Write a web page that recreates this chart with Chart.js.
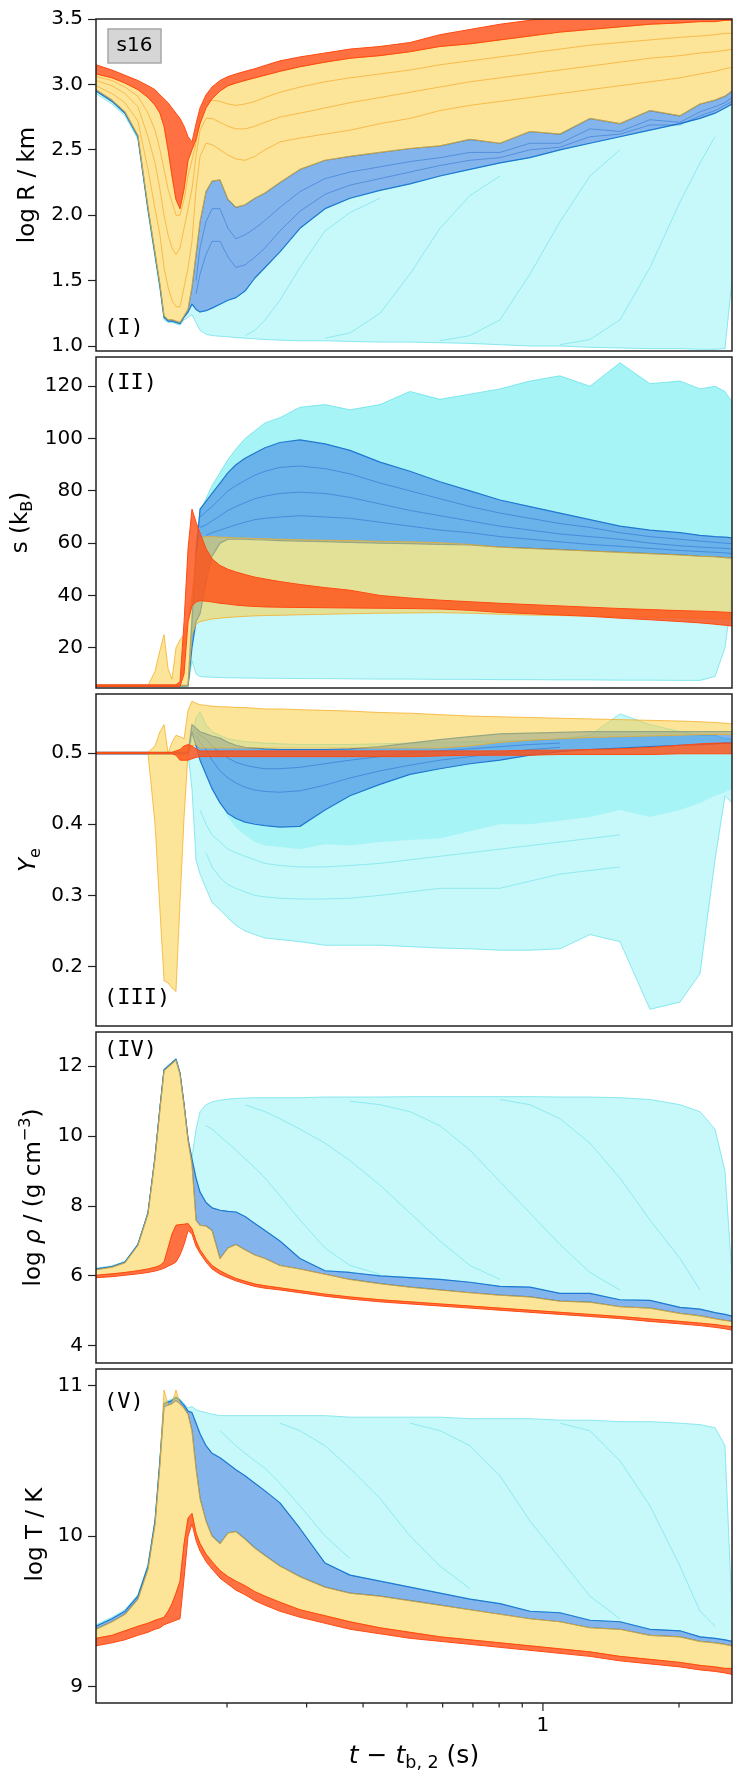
<!DOCTYPE html>
<html>
<head>
<meta charset="utf-8">
<title>s16 trajectories</title>
<script src="https://cdn.jsdelivr.net/npm/chart.js@4.4.1/dist/chart.umd.min.js"></script>
<style>
  html, body { margin: 0; padding: 0; background: #fff; }
  #fig { position: relative; width: 748px; height: 1782px; overflow: hidden; }
  #fig canvas { position: absolute; left: 0; }
</style>
</head>
<body>
<div id="fig"></div>
<script>
// Tiempo después del segundo rebote (s), eje logarítmico compartido
const timeSec = [0.1026, 0.1113, 0.1189, 0.1270, 0.1337, 0.1386, 0.1421, 0.1451, 0.1481, 0.1511, 0.1542,
    0.1574, 0.1607, 0.1640, 0.1673, 0.1708, 0.1743, 0.1797, 0.1853, 0.1930, 0.2010, 0.2093,
    0.2192, 0.2305, 0.2427, 0.2619, 0.2900, 0.3295, 0.3742, 0.4360, 0.5080, 0.5918, 0.6896,
    0.8034, 0.9361, 1.0907, 1.2707, 1.4806, 1.7250, 2.010, 2.226, 2.403, 2.528, 2.620];
const timeTicks = [0.2, 0.3, 0.4, 0.5, 0.6, 0.7, 0.8, 0.9, 1, 2];

// (I) log R / km
const radTicks = [1.0, 1.5, 2.0, 2.5, 3.0, 3.5];
const radCyanLo = [2.93, 2.85, 2.76, 2.58, 2.02, 1.67, 1.43, 1.20, 1.18, 1.18, 1.17,
    1.16, 1.20, 1.22, 1.24, 1.18, 1.12, 1.09, 1.08, 1.075, 1.07, 1.065,
    1.06, 1.055, 1.05, 1.045, 1.04, 1.04, 1.035, 1.03, 1.03, 1.025, 1.02,
    1.01, 1.0, 1.0, 0.99, 0.985, 0.98, 0.98, 0.975, 0.975, 0.98, 1.5];
const radCyanHi = [2.95, 2.87, 2.78, 2.60, 2.05, 1.70, 1.46, 1.22, 1.19, 1.19, 1.18,
    1.17, 1.22, 1.26, 1.32, 1.28, 1.26, 1.27, 1.29, 1.32, 1.35, 1.37,
    1.42, 1.52, 1.60, 1.72, 1.90, 2.05, 2.13, 2.19, 2.24, 2.30, 2.35,
    2.40, 2.44, 2.50, 2.55, 2.60, 2.65, 2.70, 2.74, 2.78, 2.82, 2.85];
const radBlueHi = [2.96, 2.88, 2.79, 2.61, 2.06, 1.71, 1.47, 1.23, 1.20, 1.20, 1.19,
    1.18, 1.23, 1.28, 1.45, 1.70, 1.95, 2.18, 2.26, 2.27, 2.12, 2.06,
    2.08, 2.13, 2.17, 2.25, 2.35, 2.42, 2.45, 2.48, 2.51, 2.53, 2.58,
    2.55, 2.64, 2.62, 2.74, 2.70, 2.80, 2.76, 2.85, 2.88, 2.91, 2.95];
const radRedLo = [3.08, 3.05, 3.01, 2.96, 2.90, 2.84, 2.78, 2.68, 2.50, 2.30, 2.12,
    2.05, 2.20, 2.42, 2.50, 2.58, 2.70, 2.82, 2.89, 2.95, 2.99, 3.01,
    3.03, 3.05, 3.07, 3.10, 3.135, 3.17, 3.20, 3.22, 3.25, 3.29, 3.31,
    3.34, 3.37, 3.40, 3.42, 3.44, 3.46, 3.47, 3.48, 3.48, 3.49, 3.49];
const radRedHi = [3.15, 3.11, 3.07, 3.03, 2.99, 2.96, 2.92, 2.89, 2.86, 2.82, 2.78,
    2.74, 2.68, 2.60, 2.56, 2.70, 2.82, 2.92, 2.98, 3.03, 3.06, 3.08,
    3.10, 3.12, 3.145, 3.18, 3.21, 3.24, 3.27, 3.29, 3.32, 3.38, 3.42,
    3.46, 3.49, 3.52, 3.55, 3.57, 3.59, 3.61, 3.62, 3.63, 3.64, 3.65];
// trayectorias individuales: [índice inicial, valores]
const radYellowTraces = [
    [0, [2.99, 2.93, 2.86, 2.72, 2.35, 2.05, 1.85, 1.60, 1.45, 1.35, 1.30, 1.30, 1.45, 1.60, 1.80, 2.20, 2.45,
         2.55, 2.54, 2.50, 2.46, 2.43, 2.42, 2.45, 2.50, 2.56, 2.59, 2.62, 2.65, 2.70, 2.74, 2.80, 2.84,
         2.87, 2.90, 2.93, 2.96, 2.99, 3.02, 3.05, 3.08, 3.10, 3.12, 3.13]],
    [0, [3.03, 2.99, 2.93, 2.83, 2.60, 2.40, 2.20, 2.00, 1.85, 1.75, 1.70, 1.75, 1.90, 2.05, 2.20, 2.45, 2.65,
         2.74, 2.74, 2.71, 2.68, 2.66, 2.66, 2.68, 2.71, 2.75, 2.78, 2.82, 2.86, 2.90, 2.94, 2.98, 3.02,
         3.05, 3.08, 3.11, 3.14, 3.17, 3.20, 3.22, 3.24, 3.25, 3.26, 3.27]],
    [0, [3.06, 3.03, 2.98, 2.91, 2.78, 2.65, 2.50, 2.35, 2.20, 2.10, 2.00, 2.00, 2.12, 2.30, 2.42, 2.55, 2.78,
         2.87, 2.88, 2.87, 2.85, 2.84, 2.85, 2.87, 2.90, 2.94, 2.98, 3.02, 3.05, 3.08, 3.11, 3.15, 3.18,
         3.21, 3.24, 3.27, 3.30, 3.32, 3.34, 3.36, 3.37, 3.38, 3.39, 3.39]]
];
const radBlueTraces = [
    [15, [1.5, 1.75, 1.95, 2.05, 2.05, 1.9, 1.82, 1.85, 1.9, 1.96, 2.06, 2.18, 2.28, 2.33, 2.37, 2.41, 2.44,
          2.48, 2.48, 2.55, 2.55, 2.66, 2.64, 2.73, 2.71, 2.79, 2.83, 2.86, 2.9]],
    [15, [1.4, 1.55, 1.7, 1.8, 1.8, 1.68, 1.6, 1.62, 1.68, 1.75, 1.88, 2.03, 2.16, 2.23, 2.28, 2.33, 2.38,
          2.42, 2.44, 2.5, 2.52, 2.6, 2.62, 2.69, 2.69, 2.76, 2.8, 2.84, 2.87]]
];
const radCyanTraces = [
    [22, [1.08, 1.12, 1.20, 1.35, 1.60, 1.88, 2.02, 2.13]],
    [27, [1.06, 1.10, 1.25, 1.55, 1.90, 2.15, 2.30]],
    [31, [1.04, 1.08, 1.20, 1.55, 1.95, 2.30, 2.50]],
    [35, [1.01, 1.05, 1.20, 1.60, 2.10, 2.40, 2.60]]
];

// (II) entropía s (kB)
const entTicks = [20, 40, 60, 80, 100, 120];
const entCyanLo = [5.2, 5.2, 5.2, 5.2, 5.2, 5.2, 5.2, 5.2, 5.2, 5.2, 5.2,
    5.2, 5.2, 5.3, 15, 10, 9.0, 8.8, 8.7, 8.6, 8.5, 8.5,
    8.4, 8.4, 8.3, 8.3, 8.2, 8.2, 8.1, 8.0, 8.0, 7.9, 7.9,
    7.8, 7.8, 7.7, 7.7, 7.6, 7.6, 7.5, 7.5, 9.0, 20, 40];
const entCyanHi = [5.5, 5.5, 5.5, 5.5, 5.5, 5.5, 5.5, 5.5, 5.5, 5.5, 5.5,
    5.5, 5.5, 5.6, 35, 60, 72, 77, 82, 87, 92, 96,
    100, 103, 106, 108, 112, 113, 111, 113, 118, 115, 117,
    119, 122, 124, 120, 129, 121, 122, 119, 120, 118, 114];
const entBlueLo = [5.4, 5.4, 5.4, 5.4, 5.4, 5.4, 5.4, 5.4, 5.4, 5.4, 5.4,
    5.4, 5.4, 5.4, 20, 30, 33, 45, 55, 60, 61.5, 61.5,
    61.5, 61.3, 61.2, 61, 60.8, 60.6, 60.3, 60, 59.8, 59.5, 59.3,
    58.5, 58, 57.5, 57, 56.5, 56, 55.5, 55, 54.8, 54.5, 54.3];
const entBlueHi = [5.6, 5.6, 5.6, 5.6, 5.6, 5.6, 5.6, 5.6, 5.6, 5.6, 5.6,
    5.6, 5.6, 5.6, 30, 55, 73, 76, 79, 83, 87, 90,
    92.5, 94.5, 96.5, 98.5, 99.5, 98, 95.5, 91, 87.5, 83.5, 80,
    76.5, 74, 71.5, 69, 66.5, 65, 64, 63, 62.5, 62.3, 62];
const entYelLo = [5.4, 5.4, 5.4, 5.4, 5.4, 5.4, 5.4, 5.4, 5.4, 5.4, 5.4,
    5.4, 5.4, 5.4, 25, 29, 30, 30.5, 31, 31.3, 31.6, 31.8,
    32, 32.2, 32.3, 32.4, 32.6, 32.8, 33, 33.2, 33.3, 33.4, 33.2,
    32.8, 32.5, 32.3, 32.1, 31.9, 31.7, 31.5, 31.3, 31.2, 31.1, 31];
const entYelHi = [5.6, 5.6, 5.6, 5.6, 5.6, 11, 19, 25, 12, 8, 20,
    23, 25, 30, 40, 55, 62, 62.5, 62.5, 62.3, 62.2, 62,
    62, 61.8, 61.7, 61.5, 61.3, 61.1, 61, 60.7, 60.5, 60.2, 59.5,
    58.5, 58, 57.5, 57, 56.5, 56, 55.5, 55, 54.8, 54.5, 54.3];
const entRedLo = [5.2, 5.2, 5.2, 5.2, 5.2, 5.2, 5.2, 5.2, 5.2, 5.2, 5.2,
    5.2, 10, 30, 36, 37.5, 38, 37.8, 37.5, 37, 36.7, 36.3,
    36, 35.8, 35.6, 35.5, 35.4, 35.3, 35.2, 35.1, 35, 34.8, 34.3,
    33.5, 33, 32.5, 32, 31.3, 30.7, 30, 29.5, 29, 28.6, 28.3];
const entRedHi = [5.8, 5.8, 5.8, 5.8, 5.8, 5.8, 5.8, 5.8, 5.8, 5.8, 5.8,
    7, 30, 58, 73, 68, 64, 58, 54, 51.5, 50, 49,
    48, 47, 46.3, 45.3, 44.2, 43, 42, 40, 39, 38.2, 37.6,
    37, 36.5, 36, 35.5, 35, 34.6, 34.2, 34, 33.8, 33.6, 33.5];
const entBlueTraces = [
    [16, [70, 72, 74, 77, 80, 82, 84, 86, 87.5, 89, 89.5, 88.5, 86.5, 83, 80, 77, 74, 71.5, 69.5, 67.5,
          66, 64, 62.5, 61.5, 60.8, 60.3, 60, 59.8]],
    [16, [66, 67, 68.5, 70.5, 72.5, 74, 75.5, 77, 78, 79, 79.5, 79, 77.5, 75, 72.5, 70.5, 68.5, 66.5, 65,
          63.5, 62.5, 61.5, 60, 59, 58.5, 58.2, 58, 57.8]],
    [17, [63, 64, 65, 66, 67, 68, 69, 69.5, 70, 70.5, 70, 69.5, 68, 66.5, 65, 64, 62.5, 61.5, 60.5, 59.5,
          58.8, 58, 57.2, 56.8, 56.5, 56.3, 56]]
];

// (III) fracción de electrones Ye
const yeTicks = [0.2, 0.3, 0.4, 0.5];
const yeCyanLo = [0.499, 0.499, 0.499, 0.499, 0.499, 0.499, 0.499, 0.499, 0.499, 0.499, 0.499,
    0.499, 0.499, 0.499, 0.45, 0.35, 0.33, 0.31, 0.29, 0.28, 0.268, 0.258,
    0.25, 0.245, 0.24, 0.238, 0.235, 0.23, 0.23, 0.23, 0.228, 0.226, 0.225,
    0.223, 0.223, 0.225, 0.245, 0.235, 0.14, 0.15, 0.19, 0.35, 0.44, 0.43];
const yeCyanHi = [0.501, 0.501, 0.501, 0.501, 0.501, 0.501, 0.501, 0.501, 0.501, 0.501, 0.501,
    0.501, 0.501, 0.501, 0.52, 0.55, 0.558, 0.54, 0.53, 0.525, 0.52, 0.518,
    0.516, 0.515, 0.514, 0.513, 0.512, 0.512, 0.512, 0.513, 0.514, 0.515, 0.516,
    0.517, 0.518, 0.52, 0.525, 0.555, 0.54, 0.53, 0.525, 0.525, 0.52, 0.52];
const yeCyanDenseLo = [0.499, 0.499, 0.499, 0.499, 0.499, 0.499, 0.499, 0.499, 0.499, 0.499, 0.499,
    0.499, 0.499, 0.499, 0.53, 0.51, 0.49, 0.47, 0.45, 0.43, 0.41, 0.395,
    0.385, 0.375, 0.37, 0.368, 0.365, 0.372, 0.37, 0.375, 0.378, 0.38, 0.39,
    0.40, 0.40, 0.405, 0.41, 0.42, 0.41, 0.42, 0.43, 0.44, 0.445, 0.45];
const yeBlueLo = [0.499, 0.499, 0.499, 0.499, 0.499, 0.499, 0.499, 0.499, 0.499, 0.499, 0.499,
    0.499, 0.499, 0.499, 0.53, 0.51, 0.49, 0.47, 0.45, 0.43, 0.415, 0.408,
    0.403, 0.40, 0.398, 0.396, 0.397, 0.42, 0.44, 0.456, 0.47, 0.478, 0.485,
    0.49, 0.497, 0.502, 0.505, 0.507, 0.509, 0.511, 0.512, 0.513, 0.514, 0.514];
const yeBlueHi = [0.501, 0.501, 0.501, 0.501, 0.501, 0.501, 0.501, 0.501, 0.501, 0.501, 0.501,
    0.501, 0.501, 0.501, 0.54, 0.535, 0.53, 0.527, 0.524, 0.521, 0.515, 0.511,
    0.508, 0.507, 0.506, 0.505, 0.505, 0.505, 0.506, 0.509, 0.514, 0.519, 0.523,
    0.527, 0.528, 0.529, 0.53, 0.53, 0.53, 0.53, 0.53, 0.53, 0.53, 0.53];
const yeYelLo = [0.5, 0.5, 0.5, 0.5, 0.5, 0.40, 0.28, 0.18, 0.177, 0.17, 0.165,
    0.29, 0.41, 0.5, 0.51, 0.512, 0.507, 0.507, 0.507, 0.507, 0.507, 0.507,
    0.507, 0.507, 0.507, 0.507, 0.507, 0.507, 0.507, 0.507, 0.507, 0.507, 0.51,
    0.515, 0.518, 0.52, 0.522, 0.523, 0.524, 0.525, 0.526, 0.526, 0.526, 0.526];
const yeYelHi = [0.501, 0.501, 0.501, 0.501, 0.501, 0.51, 0.53, 0.54, 0.50, 0.515, 0.525,
    0.523, 0.52, 0.56, 0.573, 0.570, 0.568, 0.567, 0.566, 0.565, 0.565, 0.564,
    0.564, 0.563, 0.562, 0.562, 0.561, 0.560, 0.559, 0.557, 0.556, 0.554, 0.552,
    0.551, 0.55, 0.549, 0.548, 0.547, 0.546, 0.545, 0.544, 0.543, 0.542, 0.541];
const yeRedLo = [0.499, 0.499, 0.499, 0.499, 0.499, 0.499, 0.499, 0.499, 0.499, 0.499, 0.497,
    0.49, 0.49, 0.49, 0.492, 0.494, 0.495, 0.495, 0.495, 0.495, 0.495, 0.495,
    0.495, 0.495, 0.495, 0.495, 0.495, 0.495, 0.495, 0.495, 0.495, 0.496, 0.497,
    0.497, 0.497, 0.498, 0.498, 0.498, 0.498, 0.499, 0.499, 0.499, 0.499, 0.499];
const yeRedHi = [0.501, 0.501, 0.501, 0.501, 0.501, 0.501, 0.501, 0.501, 0.501, 0.501, 0.503,
    0.505, 0.51, 0.512, 0.51, 0.506, 0.503, 0.503, 0.503, 0.503, 0.503, 0.503,
    0.503, 0.503, 0.503, 0.503, 0.503, 0.503, 0.503, 0.503, 0.503, 0.503, 0.503,
    0.503, 0.504, 0.504, 0.505, 0.506, 0.508, 0.511, 0.513, 0.514, 0.514, 0.514];
const yeBlueTraces = [
    [15, [0.525, 0.515, 0.505, 0.49, 0.475, 0.465, 0.458, 0.452, 0.448, 0.446, 0.445, 0.447, 0.455, 0.465,
          0.475, 0.483, 0.49, 0.495, 0.5, 0.505, 0.508]],
    [15, [0.53, 0.525, 0.52, 0.51, 0.5, 0.493, 0.487, 0.483, 0.48, 0.478, 0.478, 0.48, 0.485, 0.49,
          0.495, 0.5, 0.503, 0.506, 0.509, 0.512, 0.514]]
];
const yeCyanTraces = [
    [17, [0.36, 0.34, 0.325, 0.315, 0.31, 0.305, 0.3, 0.298, 0.296, 0.295, 0.295, 0.296, 0.3, 0.305,
          0.31, 0.31, 0.31, 0.32, 0.33, 0.335, 0.34]],
    [16, [0.42, 0.40, 0.385, 0.375, 0.365, 0.36, 0.355, 0.35, 0.345, 0.342, 0.34, 0.34, 0.342, 0.345,
          0.35, 0.355, 0.36, 0.365, 0.37, 0.375, 0.38, 0.385]]
];

// (IV) log densidad
const rhoTicks = [4, 6, 8, 10, 12];
const rhoCyanLo = [6.2, 6.27, 6.4, 6.9, 7.8, 9.4, 10.8, 11.9, 12.0, 12.1, 12.2,
    11.8, 10.9, 9.9, 9.35, 8.8, 8.4, 8.1, 7.95, 7.88, 7.85, 7.83,
    7.7, 7.5, 7.3, 7.0, 6.5, 6.15, 6.1, 6.0, 5.95, 5.9, 5.82,
    5.7, 5.68, 5.5, 5.5, 5.32, 5.3, 5.1, 5.05, 4.95, 4.9, 4.85];
const rhoCyanHi = [6.22, 6.29, 6.42, 6.92, 7.82, 9.42, 10.82, 11.92, 12.02, 12.12, 12.22,
    11.82, 10.92, 9.92, 9.4, 10.2, 10.7, 10.9, 10.98, 11.03, 11.06, 11.08,
    11.09, 11.1, 11.1, 11.1, 11.1, 11.12, 11.12, 11.12, 11.13, 11.13, 11.13,
    11.13, 11.13, 11.12, 11.12, 11.1, 11.05, 10.9, 10.7, 10.2, 9.0, 6.0];
const rhoBlueLo = [6.18, 6.25, 6.38, 6.88, 7.78, 9.38, 10.78, 11.88, 11.98, 12.08, 12.18,
    11.78, 10.88, 9.88, 9.2, 7.6, 7.45, 7.43, 7.3, 6.5, 6.8, 6.9,
    6.75, 6.6, 6.5, 6.3, 6.2, 6.05, 5.9, 5.78, 5.68, 5.6, 5.52,
    5.45, 5.4, 5.28, 5.25, 5.12, 5.08, 4.93, 4.86, 4.78, 4.73, 4.7];
const rhoRedHi = [6.02, 6.06, 6.1, 6.15, 6.2, 6.25, 6.3, 6.4, 6.8, 7.2, 7.45,
    7.47, 7.48, 7.5, 7.35, 7.0, 6.75, 6.5, 6.3, 6.15, 6.03, 5.93,
    5.85, 5.77, 5.72, 5.66, 5.58, 5.48, 5.4, 5.32, 5.26, 5.2, 5.14,
    5.08, 5.02, 4.96, 4.9, 4.84, 4.77, 4.7, 4.65, 4.61, 4.57, 4.55];
const rhoRedLo = [5.95, 5.98, 6.02, 6.06, 6.1, 6.14, 6.18, 6.22, 6.28, 6.33, 6.4,
    6.6, 6.9, 7.3, 7.2, 6.85, 6.65, 6.4, 6.2, 6.05, 5.95, 5.86,
    5.78, 5.7, 5.65, 5.6, 5.52, 5.42, 5.34, 5.26, 5.2, 5.14, 5.08,
    5.02, 4.96, 4.9, 4.84, 4.78, 4.7, 4.63, 4.58, 4.53, 4.49, 4.45];
const rhoCyanTraces = [
    [17, [10.3, 10.2, 10.0, 9.8, 9.6, 9.35, 9.1, 8.8, 8.3, 7.6, 6.8, 6.3, 6.05]],
    [22, [10.9, 10.8, 10.7, 10.5, 10.2, 9.8, 9.3, 8.6, 7.8, 7.0, 6.3, 5.9]],
    [28, [11.0, 10.9, 10.7, 10.3, 9.6, 8.7, 7.8, 6.9, 6.1, 5.6]],
    [33, [11.05, 10.9, 10.5, 9.8, 8.8, 7.6, 6.5, 5.6]]
];

// (V) log temperatura
const tempTicks = [9, 10, 11];
const tempCyanLo = [9.40, 9.45, 9.50, 9.60, 9.80, 10.10, 10.50, 10.88, 10.89, 10.90, 10.92,
    10.90, 10.87, 10.83, 10.82, 10.75, 10.68, 10.6, 10.55, 10.52, 10.48, 10.44,
    10.4, 10.35, 10.3, 10.22, 10.05, 9.82, 9.74, 9.7, 9.66, 9.62, 9.58,
    9.55, 9.5, 9.49, 9.44, 9.43, 9.38, 9.37, 9.33, 9.32, 9.31, 9.3];
const tempCyanHi = [9.41, 9.46, 9.51, 9.61, 9.81, 10.11, 10.51, 10.89, 10.9, 10.91, 10.93,
    10.91, 10.88, 10.85, 10.86, 10.84, 10.83, 10.82, 10.81, 10.8, 10.8, 10.8,
    10.8, 10.8, 10.8, 10.8, 10.8, 10.8, 10.79, 10.79, 10.79, 10.79, 10.78,
    10.78, 10.78, 10.77, 10.77, 10.76, 10.76, 10.75, 10.74, 10.72, 10.6, 9.5];
const tempBlueLo = [9.38, 9.43, 9.48, 9.58, 9.78, 10.08, 10.48, 10.86, 10.87, 10.88, 10.9,
    10.88, 10.85, 10.81, 10.7, 10.45, 10.25, 10.1, 10.0, 9.95, 10.02, 10.03,
    9.98, 9.92, 9.87, 9.8, 9.73, 9.66, 9.62, 9.6, 9.57, 9.54, 9.51,
    9.48, 9.45, 9.43, 9.39, 9.38, 9.34, 9.33, 9.3, 9.29, 9.28, 9.27];
const tempYelHi = [9.38, 9.43, 9.48, 9.58, 9.78, 10.08, 10.48, 10.97, 10.87, 10.88, 10.97,
    10.88, 10.85, 10.81, 10.7, 10.45, 10.25, 10.1, 10.0, 9.95, 10.02, 10.03,
    9.98, 9.92, 9.87, 9.8, 9.73, 9.66, 9.62, 9.6, 9.57, 9.54, 9.51,
    9.48, 9.45, 9.43, 9.39, 9.38, 9.34, 9.33, 9.3, 9.29, 9.28, 9.27];
const tempRedHi = [9.32, 9.34, 9.37, 9.40, 9.42, 9.44, 9.45, 9.46, 9.5, 9.55, 9.62,
    9.7, 9.95, 10.12, 10.15, 10.02, 9.95, 9.88, 9.83, 9.77, 9.73, 9.7,
    9.67, 9.63, 9.6, 9.56, 9.51, 9.47, 9.43, 9.39, 9.36, 9.33, 9.31,
    9.29, 9.27, 9.25, 9.23, 9.2, 9.18, 9.16, 9.14, 9.13, 9.12, 9.12];
const tempRedLo = [9.27, 9.29, 9.31, 9.34, 9.36, 9.38, 9.39, 9.41, 9.42, 9.43, 9.44,
    9.45, 9.72, 10.0, 10.08, 9.97, 9.9, 9.83, 9.78, 9.72, 9.68, 9.64,
    9.61, 9.57, 9.54, 9.5, 9.46, 9.42, 9.38, 9.35, 9.32, 9.3, 9.28,
    9.26, 9.24, 9.22, 9.2, 9.17, 9.15, 9.13, 9.11, 9.1, 9.09, 9.08];
const tempCyanTraces = [
    [19, [10.7, 10.65, 10.6, 10.55, 10.5, 10.45, 10.35, 10.2, 10.0, 9.85]],
    [25, [10.75, 10.7, 10.6, 10.45, 10.25, 10.0, 9.8, 9.65]],
    [30, [10.75, 10.7, 10.6, 10.4, 10.1, 9.85, 9.6, 9.45]],
    [35, [10.75, 10.7, 10.5, 10.2, 9.8, 9.5, 9.4]]
];

// Geometría de la figura (px)
const FIG_W = 748, FIG_H = 1782;
const AXIS_LEFT = 96, AXIS_RIGHT = 732;
const PANEL_EDGES = [16, 354, 691, 1029, 1366, 1703];
const PAD = 14;

// Estilos de cada grupo de trayectorias
const STYLE = {
    cyan:   { fill: 'rgba(0, 222, 230, 0.22)', edge: 'rgba(100, 225, 232, 0.9)', w: 0.8, order: 5,
              trace: 'rgba(70, 215, 228, 0.55)' },
    cyan2:  { fill: 'rgba(0, 222, 230, 0.16)', edge: 'rgba(0, 0, 0, 0)', w: 0, order: 4 },
    blue:   { fill: 'rgba(30, 120, 220, 0.55)', edge: '#1f78d1', w: 1.2, order: 3,
              trace: 'rgba(20, 95, 200, 0.55)' },
    yellow: { fill: 'rgba(250, 205, 70, 0.55)', edge: 'rgba(245, 168, 28, 0.9)', w: 0.8, order: 2,
              trace: 'rgba(245, 160, 20, 0.75)' },
    red:    { fill: 'rgba(255, 80, 25, 0.82)', edge: '#ff4a10', w: 1.0, order: 1 }
};

const panels = [
    { min: 0.962, max: 3.5, ticks: radTicks, fmt: v => v.toFixed(1),
      bands: [['cyan', radCyanLo, radCyanHi], ['blue', radCyanHi, radBlueHi],
              ['yellow', radBlueHi, radRedLo], ['red', radRedLo, radRedHi]],
      traces: [['cyan', radCyanTraces], ['blue', radBlueTraces], ['yellow', radYellowTraces]],
      label: [['log R / km', '']], labelX: 27, tag: '(I)', tagY: 328 },
    { min: 4.6, max: 131.2, ticks: entTicks, fmt: v => String(v),
      bands: [['cyan', entCyanLo, entCyanHi], ['cyan2', entBlueHi, entCyanHi], ['blue', entBlueLo, entBlueHi],
              ['yellow', entYelLo, entYelHi], ['red', entRedLo, entRedHi]],
      traces: [['blue', entBlueTraces]],
      label: [['s (k', ''], ['B', 'sub'], [')', '']], labelX: 20, tag: '(II)', tagY: 383 },
    { min: 0.1165, max: 0.583, ticks: yeTicks, fmt: v => v.toFixed(1),
      bands: [['cyan', yeCyanLo, yeCyanHi], ['cyan2', yeCyanDenseLo, yeBlueLo], ['blue', yeBlueLo, yeBlueHi],
              ['yellow', yeYelLo, yeYelHi], ['red', yeRedLo, yeRedHi]],
      traces: [['cyan', yeCyanTraces], ['blue', yeBlueTraces]],
      label: [['Y', 'i'], ['e', 'sub']], labelX: 28, tag: '(III)', tagY: 998 },
    { min: 3.51, max: 12.98, ticks: rhoTicks, fmt: v => String(v),
      bands: [['cyan', rhoCyanLo, rhoCyanHi], ['blue', rhoBlueLo, rhoCyanLo],
              ['yellow', rhoRedHi, rhoBlueLo], ['red', rhoRedLo, rhoRedHi]],
      traces: [['cyan', rhoCyanTraces]],
      label: [['log ', ''], ['ρ', 'i'], [' / (g cm', ''], ['−3', 'sup'], [')', '']], labelX: 33, tag: '(IV)', tagY: 1050 },
    { min: 8.89, max: 11.11, ticks: tempTicks, fmt: v => String(v),
      bands: [['cyan', tempCyanLo, tempCyanHi], ['blue', tempBlueLo, tempCyanLo],
              ['yellow', tempRedHi, tempYelHi], ['red', tempRedLo, tempRedHi]],
      traces: [['cyan', tempCyanTraces]],
      label: [['log T / K', '']], labelX: 35, tag: '(V)', tagY: 1402 }
];

Chart.defaults.font.family = '"DejaVu Sans", sans-serif';
Chart.defaults.color = '#000';

function toPoints(ys, from) {
    const start = from || 0;
    return ys.map((y, k) => ({ x: timeSec[start + k], y }));
}

function bandDatasets(kind, lo, hi) {
    const st = STYLE[kind];
    const common = { borderColor: st.edge, borderWidth: st.w, pointRadius: 0, tension: 0,
                     borderJoinStyle: 'round', order: st.order };
    return [
        Object.assign({ data: toPoints(lo), fill: false }, common),
        Object.assign({ data: toPoints(hi), fill: '-1', backgroundColor: st.fill }, common)
    ];
}

function traceDatasets(kind, list) {
    const st = STYLE[kind];
    return list.map(([from, ys]) => ({
        data: toPoints(ys, from), fill: false, borderColor: st.trace, borderWidth: 0.8,
        pointRadius: 0, tension: 0, order: st.order - 0.5
    }));
}

// Texto con cursivas, subíndices y superíndices, centrado en (cx, cy)
function drawRich(ctx, parts, cx, cy, size, vertical) {
    ctx.save();
    ctx.translate(cx, cy);
    if (vertical) ctx.rotate(-Math.PI / 2);
    const runs = parts.map(([text, kind]) => {
        const small = kind === 'sub' || kind === 'sup';
        const font = (kind === 'i' ? 'italic ' : '') + (small ? size * 0.7 : size) + 'px "DejaVu Sans"';
        ctx.font = font;
        return { text, kind, font, w: ctx.measureText(text).width };
    });
    let x = -runs.reduce((s, r) => s + r.w, 0) / 2;
    ctx.fillStyle = '#000';
    ctx.textAlign = 'left';
    ctx.textBaseline = 'alphabetic';
    runs.forEach(r => {
        ctx.font = r.font;
        let dy = size * 0.3;
        if (r.kind === 'sub') dy += size * 0.2;
        if (r.kind === 'sup') dy -= size * 0.42;
        ctx.fillText(r.text, x, dy);
        x += r.w;
    });
    ctx.restore();
}

function makePanel(p, i) {
    const last = i === panels.length - 1;
    const top = PANEL_EDGES[i];
    const bottom = PANEL_EDGES[i + 1];
    const canvasTop = top - PAD;
    const canvasH = last ? FIG_H - canvasTop : bottom - top + 2 * PAD;

    const canvas = document.createElement('canvas');
    canvas.width = FIG_W;
    canvas.height = canvasH;
    canvas.style.top = canvasTop + 'px';
    document.getElementById('fig').appendChild(canvas);

    const datasets = [];
    p.bands.forEach(([kind, lo, hi]) => datasets.push(...bandDatasets(kind, lo, hi)));
    p.traces.forEach(([kind, list]) => datasets.push(...traceDatasets(kind, list)));

    const decor = {
        id: 'decor' + i,
        afterDraw(chart) {
            const ctx = chart.ctx;
            const a = chart.chartArea;
            ctx.save();
            // marco del panel
            ctx.strokeStyle = '#222';
            ctx.lineWidth = 1.5;
            ctx.strokeRect(a.left, a.top, a.right - a.left, a.bottom - a.top);

            // etiqueta del panel
            ctx.fillStyle = '#000';
            ctx.font = '22px "DejaVu Sans Mono"';
            ctx.textBaseline = 'middle';
            ctx.textAlign = 'left';
            ctx.fillText(p.tag, 104, p.tagY - canvasTop);

            // título del eje y
            drawRich(ctx, p.label, p.labelX, (top + bottom) / 2 - canvasTop, 23, true);

            if (i === 0) {
                // cuadro del modelo
                ctx.fillStyle = '#d6d6d6';
                ctx.strokeStyle = '#a8a8a8';
                ctx.lineWidth = 1.5;
                ctx.fillRect(108, 29 - canvasTop, 53, 34);
                ctx.strokeRect(108, 29 - canvasTop, 53, 34);
                ctx.fillStyle = '#000';
                ctx.font = '20px "DejaVu Sans"';
                ctx.textAlign = 'center';
                ctx.textBaseline = 'middle';
                ctx.fillText('s16', 134.5, 46 - canvasTop);
            }

            if (last) {
                // marcas del eje x (mayor en 1, menores en el resto)
                const xs = chart.scales.x;
                ctx.strokeStyle = '#222';
                ctx.lineWidth = 1.2;
                timeTicks.forEach(v => {
                    const px = xs.getPixelForValue(v);
                    ctx.beginPath();
                    ctx.moveTo(px, a.bottom);
                    ctx.lineTo(px, a.bottom + (v === 1 ? 8 : 4.5));
                    ctx.stroke();
                });
                drawRich(ctx, [['t', 'i'], [' − ', ''], ['t', 'i'], ['b, 2', 'sub'], [' (s)', '']],
                         (AXIS_LEFT + AXIS_RIGHT) / 2, 1755 - canvasTop, 25, false);
            }
            ctx.restore();
        }
    };

    new Chart(canvas, {
        type: 'line',
        data: { datasets },
        options: {
            responsive: false,
            animation: false,
            events: [],
            layout: { padding: { top: PAD, bottom: last ? 0 : PAD, left: 0, right: FIG_W - AXIS_RIGHT } },
            plugins: { legend: { display: false }, tooltip: { enabled: false } },
            scales: {
                x: {
                    type: 'logarithmic',
                    min: timeSec[0],
                    max: timeSec[timeSec.length - 1],
                    bounds: 'data',
                    display: last,
                    afterBuildTicks: s => { s.ticks = timeTicks.map(v => ({ value: v })); },
                    afterFit: s => { if (last) s.height = FIG_H - PANEL_EDGES[5]; },
                    grid: { drawOnChartArea: false, drawTicks: false },
                    border: { display: false },
                    ticks: {
                        autoSkip: false, maxRotation: 0, padding: 11,
                        font: { size: 20 }, color: '#000',
                        callback: v => (v === 1 ? '1' : '')
                    }
                },
                y: {
                    type: 'linear',
                    min: p.min,
                    max: p.max,
                    bounds: 'data',
                    afterBuildTicks: s => { s.ticks = p.ticks.map(v => ({ value: v })); },
                    afterFit: s => { s.width = AXIS_LEFT; },
                    grid: { drawOnChartArea: false, drawTicks: true, tickLength: 8, tickColor: '#222', tickWidth: 1.2 },
                    border: { display: false },
                    ticks: { autoSkip: false, padding: 5, font: { size: 20 }, color: '#000', callback: v => p.fmt(v) }
                }
            }
        },
        plugins: [decor]
    });
}

panels.forEach(makePanel);
</script>
</body>
</html>
